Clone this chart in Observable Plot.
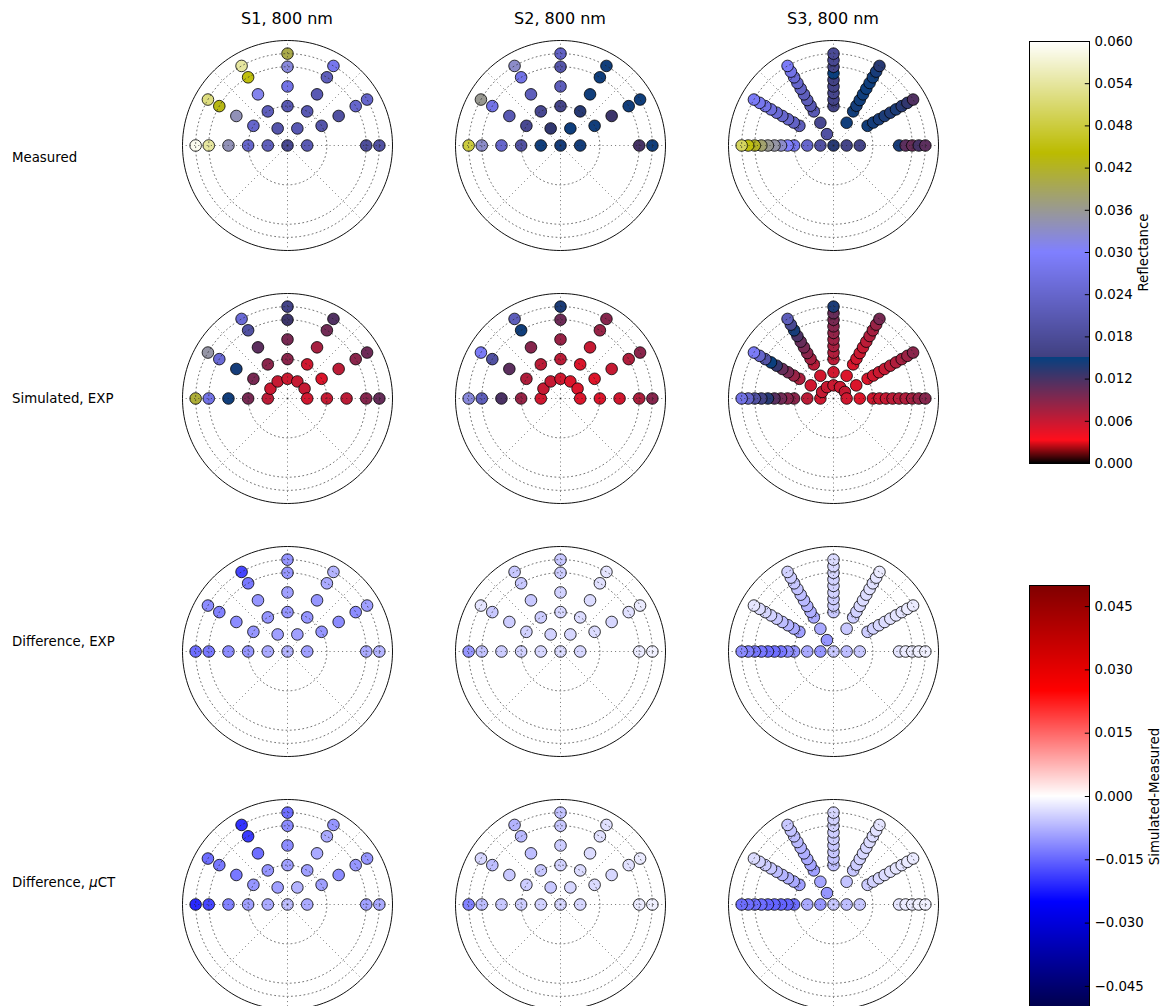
<!DOCTYPE html>
<html><head><meta charset="utf-8">
<script src="https://cdn.jsdelivr.net/npm/d3@7"></script>
<script src="https://cdn.jsdelivr.net/npm/@observablehq/plot@0.6"></script>
<style>
html,body{margin:0;padding:0;background:#fff;overflow:hidden;}
#root{position:relative;width:1162px;height:1006px;overflow:hidden;font-family:"DejaVu Sans",sans-serif;color:#000;}
.lbl{position:absolute;white-space:nowrap;line-height:1;}
.panel{position:absolute;}
</style></head><body><div id="root"></div>
<script>
// ---------- geometry (azimuth in degrees, zenith in degrees) ----------
const azimuths = [180, 150, 120, 90, 60, 30, 0];
const zenMeasS12 = [[15,30,45,60,70],[30,45,60,70],[15,30,45,60,70],[30,45,60,70],[15,30,45,60,70],[30,45,60,70],[15,60,70]];
const zenSimS12 = [15,30,45,60,70];
const zenMeasS3 = [[10,20,30,35,40,45,50,55,60,65,70],[30,35,40,45,50,55,60,65,70],[10,20,30,35,40,45,50,55,60,65,70],[30,35,40,45,50,55,60,65,70],[20,30,35,40,45,50,55,60,65,70],[30,35,40,45,50,55,60,65,70],[10,20,50,55,60,65,70]];
const zenSimS3 = [10,20,30,35,40,45,50,55,60,65,70];
const ringZen = [30, 60, 70];
const maxZen = 80;

// ---------- labels ----------
const columnTitles = ["S1, 800 nm", "S2, 800 nm", "S3, 800 nm"];
const rowLabels = ["Measured", "Simulated, EXP", "Difference, EXP", "Difference, <i>μ</i>CT"];
const reflTicks = [0, 0.006, 0.012, 0.018, 0.024, 0.030, 0.036, 0.042, 0.048, 0.054, 0.060];
const diffTicks = [-0.045, -0.030, -0.015, 0, 0.015, 0.030, 0.045];

// ---------- measured reflectance (per azimuth, following zenith lists) ----------
const measS1 = [[0.022,0.024,0.034,0.054,0.059],[0.024,0.034,0.043,0.052],[0.020,0.022,0.031,0.045,0.054],[0.021,0.027,0.032,0.040],[0.021,0.021,0.021,0.022,0.028],[0.020,0.019,0.024,0.024],[0.021,0.018,0.019]];
const measS1Center = 0.017;
const measS2 = [[0.0145,0.019,0.024,0.033,0.048],[0.017,0.021,0.027,0.036],[0.013,0.017,0.022,0.027,0.033],[0.016,0.022,0.020,0.023],[0.0146,0.0135,0.0145,0.0146,0.0145],[0.0145,0.0125,0.0145,0.0146],[0.0144,0.012,0.0145]];
const measS2Center = 0.0143;
const measS3 = [[0.019,0.024,0.028,0.030,0.033,0.035,0.036,0.038,0.042,0.045,0.050],[0.022,0.023,0.024,0.024,0.025,0.026,0.027,0.028,0.029],[0.019,0.017,0.021,0.021,0.022,0.022,0.023,0.024,0.025,0.027,0.029],[0.0155,0.016,0.0165,0.016,0.0155,0.0148,0.016,0.017,0.0175],[0.0145,0.0145,0.0144,0.0145,0.0146,0.0147,0.0146,0.0145,0.0142,0.0135],[0.0145,0.0144,0.0142,0.014,0.0138,0.014,0.0135,0.013,0.0115],[0.016,0.016,0.0142,0.011,0.0105,0.012,0.011]];
const measS3Center = 0.0135;

// ---------- simulated reflectance, EXP ----------
const simS1 = [[0.0065,0.0097,0.0145,0.027,0.041],[0.0058,0.0097,0.0143,0.025,0.035],[0.006,0.0088,0.011,0.019,0.025],[0.0058,0.0088,0.0097,0.0125,0.016],[0.006,0.0055,0.0075,0.010,0.0115],[0.006,0.005,0.0065,0.0088,0.0102],[0.0055,0.006,0.0065,0.009,0.0105]];
const simS2 = [[0.0055,0.0082,0.0118,0.022,0.032],[0.006,0.007,0.011,0.019,0.029],[0.006,0.0065,0.009,0.0145,0.022],[0.0055,0.0065,0.0082,0.0102,0.014],[0.005,0.005,0.006,0.0082,0.009],[0.005,0.0048,0.006,0.007,0.0088],[0.005,0.005,0.0055,0.0072,0.009]];
const simS3 = [[0.0055,0.0065,0.0088,0.009,0.010,0.0112,0.0135,0.0158,0.019,0.024,0.027],[0.006,0.0055,0.0072,0.0082,0.0097,0.0105,0.0128,0.0148,0.0195,0.024,0.029],[0.0058,0.0054,0.0066,0.0076,0.0088,0.0097,0.0105,0.0118,0.0143,0.017,0.022],[0.0058,0.0055,0.0065,0.007,0.0075,0.008,0.0085,0.009,0.0097,0.0105,0.014],[0.0058,0.005,0.005,0.0055,0.0058,0.006,0.0065,0.007,0.0075,0.0082,0.0097],[0.006,0.005,0.005,0.0055,0.0058,0.006,0.0065,0.007,0.0075,0.008,0.0088],[0.0055,0.005,0.0055,0.0058,0.006,0.0065,0.0068,0.007,0.0075,0.0082,0.009]];

// ---------- differences, EXP ----------
const diffExpS1 = [[-0.0083,-0.0103,-0.0113,-0.0132,-0.0142],[-0.0103,-0.0113,-0.0123,-0.0113],[-0.0093,-0.0103,-0.0103,-0.0132,-0.0181],[-0.0103,-0.0093,-0.0103,-0.0103],[-0.0093,-0.0103,-0.0103,-0.0083,-0.0074],[-0.0103,-0.0113,-0.0113,-0.0093],[-0.0093,-0.0083,-0.0074]];
const diffExpS1Center = -0.0074;
const diffExpS2 = [[-0.0039,-0.0044,-0.0049,-0.0059,-0.0103],[-0.0044,-0.0049,-0.0054,-0.0025],[-0.0044,-0.0049,-0.0054,-0.0054,-0.0054],[-0.0039,-0.0044,-0.0049,-0.0054],[-0.0039,-0.0034,-0.0034,-0.0029,-0.0025],[-0.0034,-0.0039,-0.0029,-0.0020],[-0.0039,-0.0020,-0.0015]];
const diffExpS2Center = -0.0034;
const diffExpS3 = [[-0.0103,-0.0083,-0.0103,-0.0113,-0.0132,-0.0142,-0.0142,-0.0132,-0.0132,-0.0123,-0.0113],[-0.0093,-0.0083,-0.0074,-0.0064,-0.0054,-0.0044,-0.0039,-0.0034,-0.0025],[-0.0103,-0.0083,-0.0083,-0.0078,-0.0074,-0.0069,-0.0064,-0.0059,-0.0054,-0.0049,-0.0044],[-0.0054,-0.0049,-0.0049,-0.0044,-0.0044,-0.0044,-0.0039,-0.0039,-0.0034],[-0.0054,-0.0049,-0.0044,-0.0039,-0.0034,-0.0034,-0.0029,-0.0029,-0.0025,-0.0020],[-0.0049,-0.0044,-0.0039,-0.0034,-0.0029,-0.0025,-0.0025,-0.0020,-0.0020],[-0.0064,-0.0054,-0.0025,-0.0020,-0.0020,-0.0015,-0.0015]];
const diffExpS3Center = -0.0054;

// ---------- differences, μCT ----------
const diffCtS1 = [[-0.0083,-0.0093,-0.0123,-0.0181,-0.0211],[-0.0103,-0.0132,-0.0132,-0.0142],[-0.0093,-0.0103,-0.0142,-0.0191,-0.0201],[-0.0093,-0.0113,-0.0113,-0.0142],[-0.0074,-0.0093,-0.0083,-0.0083,-0.0103],[-0.0093,-0.0113,-0.0103,-0.0103],[-0.0083,-0.0093,-0.0083]];
const diffCtS1Center = -0.0064;
const diffCtS2 = [[-0.0044,-0.0049,-0.0054,-0.0064,-0.0123],[-0.0049,-0.0054,-0.0064,-0.0039],[-0.0054,-0.0054,-0.0064,-0.0069,-0.0074],[-0.0044,-0.0049,-0.0054,-0.0059],[-0.0039,-0.0034,-0.0034,-0.0029,-0.0029],[-0.0034,-0.0039,-0.0029,-0.0020],[-0.0039,-0.0020,-0.0015]];
const diffCtS2Center = -0.0039;
const diffCtS3 = [[-0.0103,-0.0083,-0.0142,-0.0152,-0.0152,-0.0152,-0.0152,-0.0142,-0.0142,-0.0142,-0.0142],[-0.0093,-0.0083,-0.0078,-0.0074,-0.0064,-0.0054,-0.0049,-0.0044,-0.0034],[-0.0103,-0.0088,-0.0093,-0.0088,-0.0083,-0.0078,-0.0074,-0.0069,-0.0064,-0.0059,-0.0054],[-0.0064,-0.0059,-0.0054,-0.0054,-0.0049,-0.0049,-0.0044,-0.0044,-0.0039],[-0.0059,-0.0054,-0.0049,-0.0044,-0.0039,-0.0039,-0.0034,-0.0034,-0.0029,-0.0025],[-0.0049,-0.0044,-0.0039,-0.0034,-0.0029,-0.0025,-0.0025,-0.0020,-0.0020],[-0.0064,-0.0054,-0.0025,-0.0020,-0.0020,-0.0015,-0.0015]];
const diffCtS3Center = -0.0054;

// ---------- colour maps (matplotlib gist_stern and seismic) ----------
function gistStern(t) {
  t = Math.max(0, Math.min(1, t));
  let r, b;
  if (t < 0.0547) r = t / 0.0547;
  else if (t < 0.25) r = 1 + (t - 0.0547) / (0.25 - 0.0547) * (0.027 - 1);
  else r = t;
  const g = t;
  if (t < 0.5) b = t / 0.5;
  else if (t < 0.735) b = 1 - (t - 0.5) / 0.235;
  else b = (t - 0.735) / 0.265;
  return `rgb(${Math.round(r*255)},${Math.round(g*255)},${Math.round(b*255)})`;
}
function seismic(t) {
  t = Math.max(0, Math.min(1, t));
  const s = [[0,0,0,0.3],[0.25,0,0,1],[0.5,1,1,1],[0.75,1,0,0],[1,0.5,0,0]];
  let i = 0;
  while (i < s.length - 2 && t > s[i+1][0]) i++;
  const a = s[i], c = s[i+1], f = (t - a[0]) / (c[0] - a[0]);
  const ch = k => Math.round((a[k] + (c[k] - a[k]) * f) * 255);
  return `rgb(${ch(1)},${ch(2)},${ch(3)})`;
}
const reflColor = {type: "linear", domain: [0, 0.06], interpolate: gistStern};
const diffColor = {type: "linear", domain: [-0.05, 0.05], interpolate: seismic};

// ---------- helpers ----------
const rad = Math.PI / 180;
function pointsFrom(zenLists, vals, centerVal) {
  const pts = [];
  if (centerVal != null) pts.push({az: 0, zen: 0, v: centerVal});
  azimuths.forEach((az, i) => zenLists[i].forEach((zen, j) => pts.push({az, zen, v: vals[i][j]})));
  return pts;
}
const simZenS12 = azimuths.map(() => zenSimS12);
const simZenS3 = azimuths.map(() => zenSimS3);

const root = document.getElementById("root");
const font = "DejaVu Sans, sans-serif";

const colX = [287, 560, 833];
const rowY = [145, 398, 651, 904];
const R = 105, pad = 8;

function polarPanel(points, colorOpts, cx, cy) {
  const rings = ringZen.concat([maxZen]).flatMap(r => d3.range(0, 361, 2).map(a => ({r, x: r * Math.cos(a*rad), y: r * Math.sin(a*rad)})));
  const spokes = d3.range(0, 360, 45);
  const size = 2 * (R + pad);
  const gridStyle = {stroke: "#222", strokeWidth: 0.9, strokeDasharray: "1,3.2", strokeOpacity: 0.7};
  const svg = Plot.plot({
    width: size, height: size, margin: pad,
    style: {background: "transparent", maxWidth: "none", fontFamily: font},
    x: {domain: [-maxZen, maxZen], axis: null},
    y: {domain: [-maxZen, maxZen], axis: null},
    color: colorOpts,
    marks: [
      Plot.dot(points, {x: d => d.zen * Math.cos(d.az*rad), y: d => d.zen * Math.sin(d.az*rad), r: 5.8, fill: "v", stroke: "black", strokeWidth: 0.8}),
      Plot.line(rings.filter(d => d.r !== maxZen), {x: "x", y: "y", z: "r", ...gridStyle}),
      Plot.link(spokes, {x1: 0, y1: 0, x2: a => maxZen * Math.cos(a*rad), y2: a => maxZen * Math.sin(a*rad), ...gridStyle}),
      Plot.line(rings.filter(d => d.r === maxZen), {x: "x", y: "y", stroke: "#111", strokeWidth: 1})
    ]
  });
  const div = document.createElement("div");
  div.className = "panel";
  div.style.left = (cx - size/2) + "px";
  div.style.top = (cy - size/2) + "px";
  div.style.width = size + "px";
  div.appendChild(svg);
  root.appendChild(div);
}

function colorbar(colorOpts, ticks, label, left, top, len, labelX) {
  const dom = colorOpts.domain;
  const n = 422, step = (dom[1] - dom[0]) / n;
  const bands = d3.range(n).map(i => dom[0] + i * step);
  const m = 8;
  const svg = Plot.plot({
    width: 133, height: len + 2*m, marginLeft: 1, marginRight: 72, marginTop: m, marginBottom: m,
    style: {background: "transparent", maxWidth: "none", fontFamily: font},
    x: {domain: [0, 1], axis: null},
    y: {domain: dom, axis: null},
    color: colorOpts,
    marks: [
      Plot.rect(bands, {x1: 0, x2: 1, y1: d => d, y2: d => d + step * 1.2, fill: d => d + step/2, shapeRendering: "crispEdges"}),
      Plot.frame({stroke: "black", strokeWidth: 1}),
      Plot.ruleY(ticks, {x1: 0.93, x2: 1, stroke: "black", strokeWidth: 1}),
      Plot.text(ticks, {x: 1, y: d => d, text: d => d3.format(".3f")(d), textAnchor: "start", dx: 5, fontSize: 13.33, fill: "black"}),
      Plot.text([label], {x: labelX, y: (dom[0] + dom[1]) / 2, text: d => d, rotate: -90, fontSize: 13.33, fill: "black"})
    ]
  });
  const div = document.createElement("div");
  div.className = "panel";
  div.style.left = (left - 1) + "px";
  div.style.top = (top - m) + "px";
  div.style.width = "133px";
  div.appendChild(svg);
  root.appendChild(div);
}

function label(html, x, baseline, size, center) {
  const d = document.createElement("div");
  d.className = "lbl";
  d.innerHTML = html;
  d.style.fontSize = size + "px";
  d.style.left = x + "px";
  d.style.top = (baseline - size * 0.846) + "px";
  if (center) d.style.transform = "translateX(-50%)";
  root.appendChild(d);
}

// ---------- panels ----------
const panels = [
  [pointsFrom(zenMeasS12, measS1, measS1Center), pointsFrom(zenMeasS12, measS2, measS2Center), pointsFrom(zenMeasS3, measS3, measS3Center)],
  [pointsFrom(simZenS12, simS1), pointsFrom(simZenS12, simS2), pointsFrom(simZenS3, simS3)],
  [pointsFrom(zenMeasS12, diffExpS1, diffExpS1Center), pointsFrom(zenMeasS12, diffExpS2, diffExpS2Center), pointsFrom(zenMeasS3, diffExpS3, diffExpS3Center)],
  [pointsFrom(zenMeasS12, diffCtS1, diffCtS1Center), pointsFrom(zenMeasS12, diffCtS2, diffCtS2Center), pointsFrom(zenMeasS3, diffCtS3, diffCtS3Center)]
];
panels.forEach((row, ri) => row.forEach((pts, ci) => polarPanel(pts, ri < 2 ? reflColor : diffColor, colX[ci], rowY[ri])));

columnTitles.forEach((t, i) => label(t, colX[i], 25, 16, true));
const rowBaselines = [162, 403, 646, 887];
rowLabels.forEach((t, i) => label(t, 12, rowBaselines[i], 13.33, false));

colorbar(reflColor, reflTicks, "Reflectance", 1029, 41, 422, 1.9);
colorbar(diffColor, diffTicks, "Simulated-Measured", 1029, 585, 422, 2.08);
</script></body></html>
